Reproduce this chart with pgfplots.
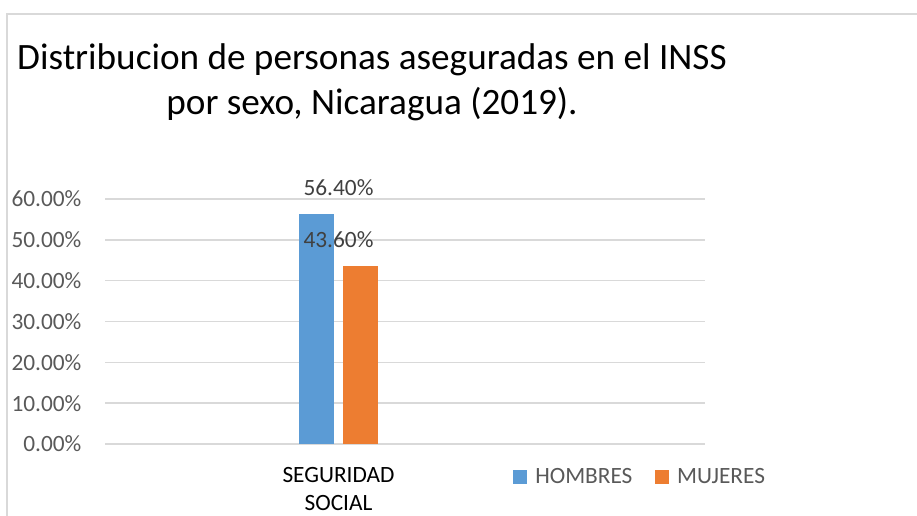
\documentclass[border=0pt]{standalone}
\usepackage{pgfplots}
\pgfplotsset{compat=1.18}
\usepackage{fontspec}
\setmainfont{Carlito}
\definecolor{cblue}{HTML}{5B9BD5}
\definecolor{corange}{HTML}{ED7D31}
\definecolor{gridgray}{HTML}{D9D9D9}
\definecolor{ticktext}{HTML}{595959}
\definecolor{labeltext}{HTML}{404040}
\begin{document}
\begin{tikzpicture}
\path[use as bounding box] (0,0) rectangle (687.75pt,387pt);
\draw[gridgray, line width=1.1pt] (5.25pt,0) -- (5.25pt,376.5pt) -- (687.75pt,376.5pt);
\node[anchor=base, inner sep=0pt, font=\fontsize{27.9}{33}\selectfont] at (279pt,334.5pt) {Distribucion de personas aseguradas en el INSS};
\node[anchor=base, inner sep=0pt, font=\fontsize{27.9}{33}\selectfont] at (279pt,300.75pt) {por sexo, Nicaragua (2019).};
\begin{axis}[
  at={(78.75pt,54pt)}, anchor=south west,
  scale only axis, width=450pt, height=183.75pt,
  xmin=-233.5, xmax=366.5, ymin=0, ymax=60,
  axis line style={draw=none},
  ymajorgrids, major grid style={gridgray, line width=1.1pt},
  major tick length=0pt,
  ytick={0,10,20,30,40,50,60},
  /pgf/number format/assume math mode=true,
  yticklabel={\pgfmathprintnumber[fixed,fixed zerofill,precision=2]{\tick}\%},
  yticklabel style={anchor=east, inner sep=0pt, xshift=-17.5pt, font=\fontsize{17.5}{21}\selectfont, text=ticktext},
  xtick={0}, xticklabels={SEGURIDAD\\SOCIAL},
  xticklabel style={align=center, anchor=north, inner sep=0pt, yshift=-17pt, font=\fontsize{17.5}{21}\selectfont, text=black},
  legend style={at={(axis description cs:0.68,-0.1347)}, anchor=west, draw=none, fill=none, inner sep=0pt, legend columns=-1, font=\fontsize{17.5}{21}\selectfont, text=ticktext,
    /tikz/every even column/.append style={column sep=15pt}},
  legend cell align=left,
  nodes near coords style={anchor=south, inner sep=0pt, yshift=13.5pt, font=\fontsize{17.5}{21}\selectfont, text=labeltext},
  clip=false,
]
\addplot[ybar, fill=cblue, draw=none, bar width=26.25pt, bar shift=-16.5pt,
  nodes near coords={\pgfmathprintnumber[fixed,fixed zerofill,precision=2]{\pgfplotspointmeta}\%},
  legend image code/.code={\fill[cblue] (0pt,-5.25pt) rectangle (10.5pt,5.25pt); \path (14.5pt,0pt);}]
  coordinates {(0,56.4)};
\addlegendentry{HOMBRES}
\addplot[ybar, fill=corange, draw=none, bar width=26.25pt, bar shift=16.5pt,
  nodes near coords={\pgfmathprintnumber[fixed,fixed zerofill,precision=2]{\pgfplotspointmeta}\%},
  legend image code/.code={\fill[corange] (0pt,-5.25pt) rectangle (10.5pt,5.25pt); \path (14.5pt,0pt);}]
  coordinates {(0,43.6)};
\addlegendentry{MUJERES}
\end{axis}
\end{tikzpicture}
\end{document}
